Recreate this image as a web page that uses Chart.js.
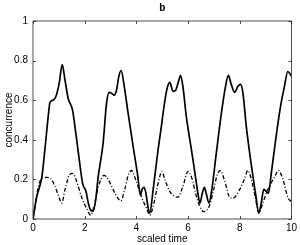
<!DOCTYPE html>
<html>
<head>
<meta charset="utf-8">
<script src="https://cdn.jsdelivr.net/npm/chart.js@4.4.1/dist/chart.umd.min.js"></script>
<style>
  html, body { margin: 0; padding: 0; background: #fff; }
  #wrap { width: 300px; height: 245px; }
</style>
</head>
<body>
<div id="wrap"><canvas id="myChart"></canvas></div>
<script>
const solidTime = [0, 0.14, 0.34, 0.46, 0.59, 0.66, 0.78, 0.89, 1.02, 1.13, 1.24, 1.36, 1.53, 1.66, 1.79, 1.92, 2.05, 2.14, 2.23, 2.33, 2.43, 2.52, 2.71, 2.85, 2.95, 3.04, 3.14, 3.23, 3.32, 3.41, 3.53, 3.68, 3.87, 4.04, 4.16, 4.22, 4.30, 4.37, 4.45, 4.52, 4.65, 4.84, 4.97, 5.06, 5.19, 5.29, 5.42, 5.52, 5.63, 5.71, 5.80, 5.93, 6.13, 6.29, 6.38, 6.46, 6.55, 6.63, 6.70, 6.81, 6.90, 7.09, 7.29, 7.45, 7.56, 7.67, 7.80, 7.93, 8.03, 8.12, 8.25, 8.44, 8.61, 8.74, 8.83, 8.93, 9.02, 9.11, 9.22, 9.41, 9.58, 9.73, 9.86, 9.96, 10];
const solidValues = [0, 0.11, 0.21, 0.35, 0.52, 0.59, 0.60, 0.62, 0.69, 0.78, 0.70, 0.61, 0.55, 0.43, 0.30, 0.18, 0.14, 0.08, 0.045, 0.04, 0.10, 0.21, 0.38, 0.59, 0.64, 0.635, 0.625, 0.65, 0.72, 0.75, 0.67, 0.535, 0.37, 0.23, 0.12, 0.15, 0.16, 0.13, 0.06, 0.03, 0.15, 0.35, 0.47, 0.56, 0.66, 0.69, 0.645, 0.65, 0.695, 0.725, 0.67, 0.52, 0.35, 0.21, 0.13, 0.08, 0.13, 0.16, 0.13, 0.08, 0.13, 0.33, 0.535, 0.67, 0.725, 0.68, 0.64, 0.67, 0.68, 0.64, 0.47, 0.28, 0.13, 0.03, 0.08, 0.15, 0.14, 0.13, 0.23, 0.42, 0.57, 0.67, 0.745, 0.73, 0.72];

const dashTime = [0, 0.1, 0.2, 0.34, 0.53, 0.68, 0.85, 1.02, 1.11, 1.24, 1.40, 1.53, 1.69, 1.88, 2.07, 2.23, 2.39, 2.52, 2.75, 2.91, 3.17, 3.40, 3.55, 3.68, 3.81, 3.97, 4.20, 4.39, 4.52, 4.68, 4.84, 4.99, 5.10, 5.29, 5.61, 5.80, 6.00, 6.15, 6.29, 6.45, 6.61, 6.81, 6.99, 7.12, 7.25, 7.41, 7.61, 7.73, 7.99, 8.19, 8.31, 8.44, 8.60, 8.74, 8.89, 9.08, 9.34, 9.50, 9.66, 9.86, 10];
const dashValues = [0, 0.08, 0.16, 0.205, 0.21, 0.205, 0.165, 0.105, 0.08, 0.15, 0.22, 0.23, 0.19, 0.11, 0.055, 0.02, 0.08, 0.16, 0.22, 0.20, 0.13, 0.092, 0.15, 0.22, 0.245, 0.20, 0.11, 0.055, 0.02, 0.08, 0.18, 0.24, 0.20, 0.14, 0.11, 0.165, 0.24, 0.205, 0.13, 0.066, 0.037, 0.062, 0.147, 0.22, 0.245, 0.195, 0.11, 0.105, 0.147, 0.205, 0.245, 0.205, 0.11, 0.03, 0.08, 0.147, 0.21, 0.245, 0.205, 0.11, 0.085];

const xTicks = [0, 2, 4, 6, 8, 10];
const yTicks = [0, 0.2, 0.4, 0.6, 0.8, 1];

const toPoints = (xs, ys) => xs.map((x, i) => ({ x: x, y: ys[i] }));

// matlab style box with inward ticks on all four sides
const boxTicks = {
    id: 'boxTicks',
    afterDraw(chart) {
        const ctx = chart.ctx;
        const a = chart.chartArea;
        const xs = chart.scales.x;
        const ys = chart.scales.y;
        const len = 3;
        ctx.save();
        ctx.strokeStyle = '#222';
        ctx.lineWidth = 0.8;
        ctx.strokeRect(a.left, a.top, a.right - a.left, a.bottom - a.top);
        ctx.beginPath();
        xTicks.forEach(v => {
            const px = Math.round(xs.getPixelForValue(v)) + 0.5;
            ctx.moveTo(px, a.bottom); ctx.lineTo(px, a.bottom - len);
            ctx.moveTo(px, a.top); ctx.lineTo(px, a.top + len);
        });
        yTicks.forEach(v => {
            const py = Math.round(ys.getPixelForValue(v)) + 0.5;
            ctx.moveTo(a.left, py); ctx.lineTo(a.left + len, py);
            ctx.moveTo(a.right, py); ctx.lineTo(a.right - len, py);
        });
        ctx.stroke();
        ctx.restore();
    }
};

const font = { family: 'Liberation Sans, Arial, sans-serif', size: 10 };

new Chart(document.getElementById('myChart'), {
    type: 'line',
    data: {
        datasets: [{
            data: toPoints(solidTime, solidValues),
            borderColor: '#000',
            borderWidth: 1.7,
            pointRadius: 0,
            fill: false,
            cubicInterpolationMode: 'monotone'
        }, {
            data: toPoints(dashTime, dashValues),
            borderColor: '#000',
            borderWidth: 1.3,
            borderDash: [4, 2, 1, 2],
            pointRadius: 0,
            fill: false,
            cubicInterpolationMode: 'monotone'
        }]
    },
    options: {
        responsive: true,
        maintainAspectRatio: false,
        animation: false,
        layout: { padding: { left: 3, right: 8, top: 0, bottom: 0 } },
        plugins: {
            legend: { display: false },
            tooltip: { enabled: false },
            title: { display: false }
        },
        scales: {
            x: {
                type: 'linear',
                min: 0,
                max: 10,
                afterBuildTicks: s => { s.ticks = xTicks.map(v => ({ value: v })); },
                afterFit: s => { s.height = 26; },
                grid: { display: false, drawTicks: false },
                border: { display: false },
                ticks: { color: '#000', font: font, padding: 3, maxRotation: 0, callback: v => String(v) },
                title: { display: true, text: 'scaled time', color: '#000', font: font, padding: { top: 0, bottom: 0 } }
            },
            // top axis only carries the panel letter, centred over the plot
            top: {
                type: 'linear',
                position: 'top',
                min: 0,
                max: 10,
                afterFit: s => { s.height = 21; },
                grid: { display: false, drawTicks: false },
                border: { display: false },
                ticks: { display: false },
                title: { display: true, text: 'b', color: '#000', font: { family: font.family, size: 10, weight: 'bold' }, padding: { top: 2, bottom: 0 } }
            },
            y: {
                min: 0,
                max: 1,
                afterBuildTicks: s => { s.ticks = yTicks.map(v => ({ value: v })); },
                afterFit: s => { s.width = 30; },
                grid: { display: false, drawTicks: false },
                border: { display: false },
                ticks: { color: '#000', font: font, padding: 5, callback: v => String(+v.toFixed(1)) },
                title: { display: true, text: 'concurrence', color: '#000', font: font, padding: { top: 0, bottom: 0 } }
            }
        }
    },
    plugins: [boxTicks]
});
</script>
</body>
</html>
